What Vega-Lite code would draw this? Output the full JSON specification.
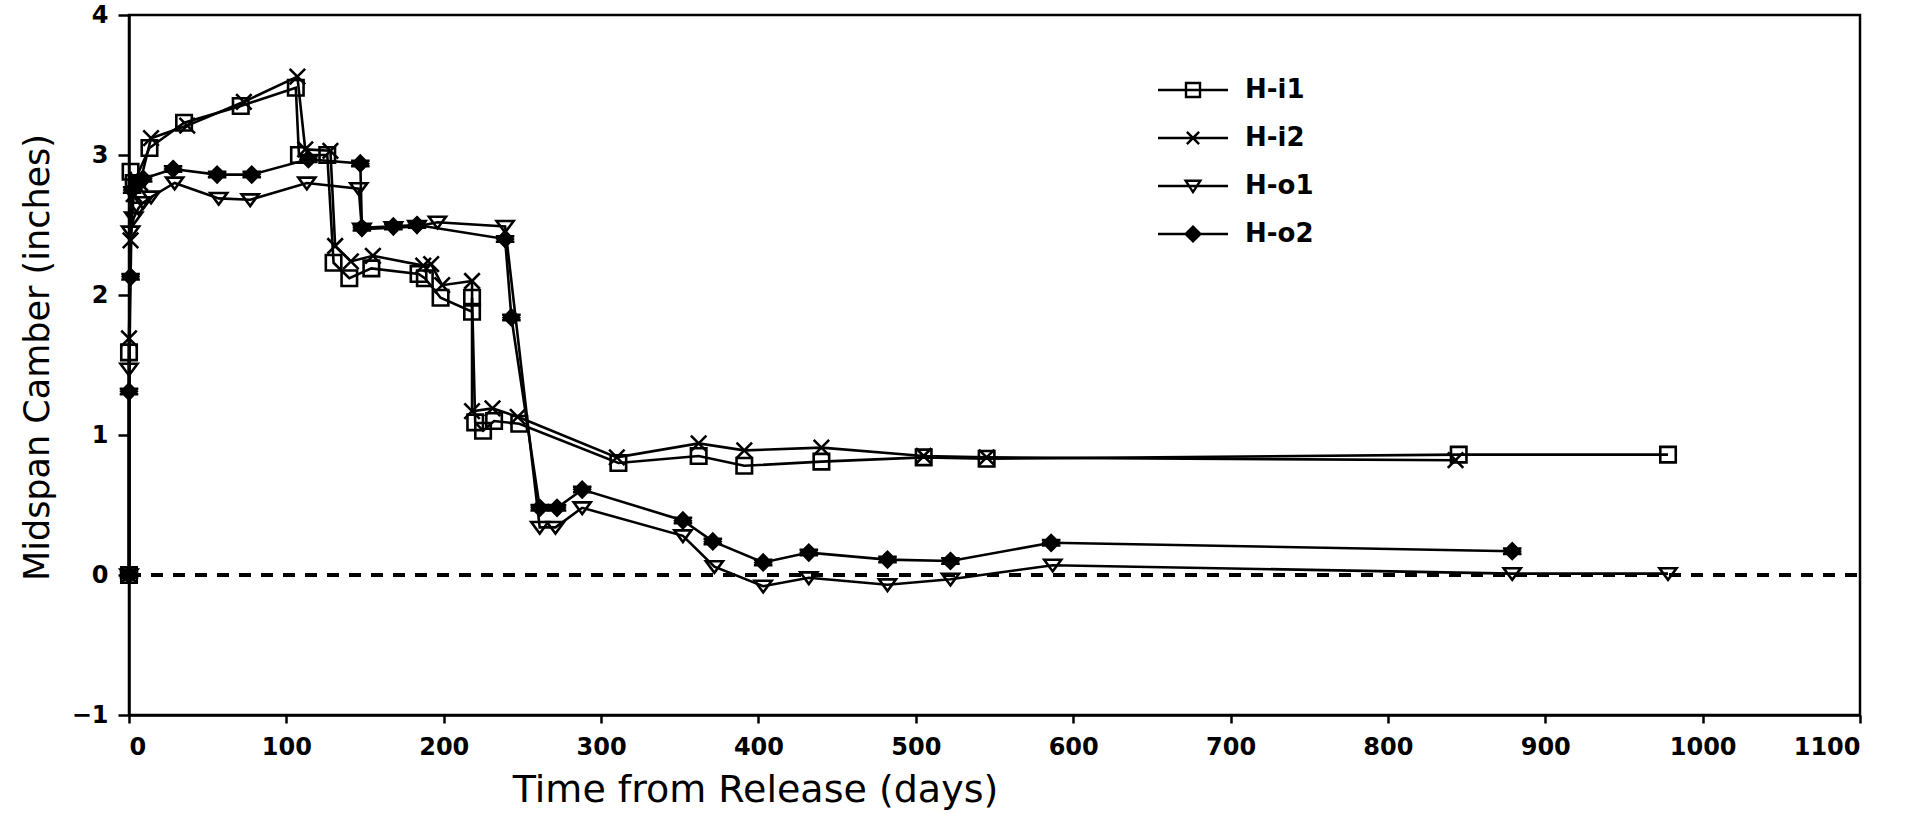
{
  "$schema": "https://vega.github.io/schema/vega-lite/v6.json",
  "width": 1731,
  "height": 700,
  "autosize": {"type": "none"},
  "padding": {"left": 129, "top": 15, "right": 54, "bottom": 99},
  "background": "white",
  "config": {
    "view": {"stroke": "black", "strokeWidth": 2.5},
    "axis": {
      "grid": false,
      "domainColor": "black",
      "domainWidth": 2.5,
      "tickColor": "black",
      "tickWidth": 2.5,
      "labelColor": "black",
      "labelFont": "DejaVu Sans",
      "labelFontWeight": "bold",
      "labelFontSize": 24,
      "titleColor": "black",
      "titleFont": "DejaVu Sans",
      "titleFontWeight": "normal",
      "titleFontSize": 36
    }
  },
  "data": {
    "values": [
      {"s": "H-i1", "i": 1, "d": 0, "v": 0},
      {"s": "H-i1", "i": 2, "d": 0, "v": 1.59},
      {"s": "H-i1", "i": 3, "d": 1, "v": 2.88},
      {"s": "H-i1", "i": 4, "d": 3, "v": 2.8},
      {"s": "H-i1", "i": 5, "d": 13, "v": 3.05},
      {"s": "H-i1", "i": 6, "d": 35, "v": 3.23},
      {"s": "H-i1", "i": 7, "d": 71, "v": 3.35},
      {"s": "H-i1", "i": 8, "d": 106, "v": 3.48},
      {"s": "H-i1", "i": 9, "d": 108, "v": 3.0},
      {"s": "H-i1", "i": 10, "d": 126, "v": 3.0},
      {"s": "H-i1", "i": 11, "d": 130, "v": 2.23},
      {"s": "H-i1", "i": 12, "d": 140, "v": 2.12},
      {"s": "H-i1", "i": 13, "d": 154, "v": 2.19},
      {"s": "H-i1", "i": 14, "d": 184, "v": 2.15},
      {"s": "H-i1", "i": 15, "d": 188, "v": 2.12},
      {"s": "H-i1", "i": 16, "d": 198, "v": 1.98},
      {"s": "H-i1", "i": 17, "d": 218, "v": 1.88},
      {"s": "H-i1", "i": 18, "d": 218, "v": 1.98},
      {"s": "H-i1", "i": 19, "d": 220, "v": 1.09},
      {"s": "H-i1", "i": 20, "d": 225, "v": 1.03},
      {"s": "H-i1", "i": 21, "d": 232, "v": 1.1},
      {"s": "H-i1", "i": 22, "d": 248, "v": 1.08},
      {"s": "H-i1", "i": 23, "d": 311, "v": 0.8},
      {"s": "H-i1", "i": 24, "d": 362, "v": 0.85},
      {"s": "H-i1", "i": 25, "d": 391, "v": 0.78},
      {"s": "H-i1", "i": 26, "d": 440, "v": 0.81},
      {"s": "H-i1", "i": 27, "d": 505, "v": 0.84},
      {"s": "H-i1", "i": 28, "d": 545, "v": 0.83},
      {"s": "H-i1", "i": 29, "d": 845, "v": 0.86},
      {"s": "H-i1", "i": 30, "d": 978, "v": 0.86},

      {"s": "H-i2", "i": 1, "d": 0, "v": 0},
      {"s": "H-i2", "i": 2, "d": 0, "v": 1.69},
      {"s": "H-i2", "i": 3, "d": 1, "v": 2.39},
      {"s": "H-i2", "i": 4, "d": 3, "v": 2.72},
      {"s": "H-i2", "i": 5, "d": 7, "v": 2.8},
      {"s": "H-i2", "i": 6, "d": 14, "v": 3.12},
      {"s": "H-i2", "i": 7, "d": 37, "v": 3.21},
      {"s": "H-i2", "i": 8, "d": 73, "v": 3.38},
      {"s": "H-i2", "i": 9, "d": 107, "v": 3.56},
      {"s": "H-i2", "i": 10, "d": 112, "v": 3.04},
      {"s": "H-i2", "i": 11, "d": 128, "v": 3.03},
      {"s": "H-i2", "i": 12, "d": 131, "v": 2.35},
      {"s": "H-i2", "i": 13, "d": 141, "v": 2.24},
      {"s": "H-i2", "i": 14, "d": 155, "v": 2.28},
      {"s": "H-i2", "i": 15, "d": 187, "v": 2.21},
      {"s": "H-i2", "i": 16, "d": 192, "v": 2.22},
      {"s": "H-i2", "i": 17, "d": 199, "v": 2.07},
      {"s": "H-i2", "i": 18, "d": 218, "v": 2.1},
      {"s": "H-i2", "i": 19, "d": 218, "v": 1.17},
      {"s": "H-i2", "i": 20, "d": 231, "v": 1.19},
      {"s": "H-i2", "i": 21, "d": 247, "v": 1.13},
      {"s": "H-i2", "i": 22, "d": 310, "v": 0.84},
      {"s": "H-i2", "i": 23, "d": 362, "v": 0.94},
      {"s": "H-i2", "i": 24, "d": 391, "v": 0.89},
      {"s": "H-i2", "i": 25, "d": 440, "v": 0.91},
      {"s": "H-i2", "i": 26, "d": 505, "v": 0.85},
      {"s": "H-i2", "i": 27, "d": 545, "v": 0.84},
      {"s": "H-i2", "i": 28, "d": 843, "v": 0.82},

      {"s": "H-o1", "i": 1, "d": 0, "v": 0},
      {"s": "H-o1", "i": 2, "d": 0, "v": 1.47},
      {"s": "H-o1", "i": 3, "d": 1, "v": 2.45},
      {"s": "H-o1", "i": 4, "d": 3, "v": 2.55},
      {"s": "H-o1", "i": 5, "d": 6, "v": 2.62},
      {"s": "H-o1", "i": 6, "d": 9, "v": 2.66},
      {"s": "H-o1", "i": 7, "d": 14, "v": 2.7},
      {"s": "H-o1", "i": 8, "d": 29, "v": 2.8},
      {"s": "H-o1", "i": 9, "d": 57, "v": 2.69},
      {"s": "H-o1", "i": 10, "d": 77, "v": 2.68},
      {"s": "H-o1", "i": 11, "d": 113, "v": 2.8},
      {"s": "H-o1", "i": 12, "d": 146, "v": 2.76},
      {"s": "H-o1", "i": 13, "d": 148, "v": 2.47},
      {"s": "H-o1", "i": 14, "d": 168, "v": 2.48},
      {"s": "H-o1", "i": 15, "d": 183, "v": 2.49},
      {"s": "H-o1", "i": 16, "d": 196, "v": 2.52},
      {"s": "H-o1", "i": 17, "d": 239, "v": 2.49},
      {"s": "H-o1", "i": 18, "d": 261, "v": 0.34},
      {"s": "H-o1", "i": 19, "d": 271, "v": 0.34},
      {"s": "H-o1", "i": 20, "d": 288, "v": 0.48},
      {"s": "H-o1", "i": 21, "d": 352, "v": 0.28},
      {"s": "H-o1", "i": 22, "d": 372, "v": 0.06},
      {"s": "H-o1", "i": 23, "d": 403, "v": -0.08},
      {"s": "H-o1", "i": 24, "d": 432, "v": -0.02},
      {"s": "H-o1", "i": 25, "d": 482, "v": -0.07},
      {"s": "H-o1", "i": 26, "d": 522, "v": -0.03},
      {"s": "H-o1", "i": 27, "d": 587, "v": 0.07},
      {"s": "H-o1", "i": 28, "d": 879, "v": 0.01},
      {"s": "H-o1", "i": 29, "d": 978, "v": 0.01},

      {"s": "H-o2", "i": 1, "d": 0, "v": 0},
      {"s": "H-o2", "i": 2, "d": 0, "v": 1.31},
      {"s": "H-o2", "i": 3, "d": 1, "v": 2.13},
      {"s": "H-o2", "i": 4, "d": 2, "v": 2.75},
      {"s": "H-o2", "i": 5, "d": 5, "v": 2.8},
      {"s": "H-o2", "i": 6, "d": 9, "v": 2.83},
      {"s": "H-o2", "i": 7, "d": 28, "v": 2.9},
      {"s": "H-o2", "i": 8, "d": 56, "v": 2.86},
      {"s": "H-o2", "i": 9, "d": 78, "v": 2.86},
      {"s": "H-o2", "i": 10, "d": 114, "v": 2.97},
      {"s": "H-o2", "i": 11, "d": 147, "v": 2.94},
      {"s": "H-o2", "i": 12, "d": 148, "v": 2.48},
      {"s": "H-o2", "i": 13, "d": 168, "v": 2.49},
      {"s": "H-o2", "i": 14, "d": 183, "v": 2.5},
      {"s": "H-o2", "i": 15, "d": 239, "v": 2.4},
      {"s": "H-o2", "i": 16, "d": 243, "v": 1.84},
      {"s": "H-o2", "i": 17, "d": 261, "v": 0.48},
      {"s": "H-o2", "i": 18, "d": 272, "v": 0.48},
      {"s": "H-o2", "i": 19, "d": 288, "v": 0.61},
      {"s": "H-o2", "i": 20, "d": 352, "v": 0.39},
      {"s": "H-o2", "i": 21, "d": 371, "v": 0.24},
      {"s": "H-o2", "i": 22, "d": 403, "v": 0.09},
      {"s": "H-o2", "i": 23, "d": 432, "v": 0.16},
      {"s": "H-o2", "i": 24, "d": 482, "v": 0.11},
      {"s": "H-o2", "i": 25, "d": 522, "v": 0.1},
      {"s": "H-o2", "i": 26, "d": 586, "v": 0.23},
      {"s": "H-o2", "i": 27, "d": 879, "v": 0.17}
    ]
  },
  "encoding": {
    "x": {
      "field": "d",
      "type": "quantitative",
      "scale": {"domain": [0, 1100], "nice": false, "zero": false},
      "axis": {
        "values": [0, 100, 200, 300, 400, 500, 600, 700, 800, 900, 1000, 1100],
        "format": "d",
        "tickSize": 8,
        "labelPadding": 12,
        "title": "Time from Release (days)",
        "titleFontSize": 38,
        "titleX": 626,
        "titleY": 86,
        "titleAlign": "center",
        "titleAnchor": null,
        "titleBaseline": "alphabetic"
      }
    },
    "y": {
      "field": "v",
      "type": "quantitative",
      "scale": {"domain": [-1, 4], "nice": false, "zero": false},
      "axis": {
        "values": [-1, 0, 1, 2, 3, 4],
        "format": "d",
        "tickSize": 11,
        "labelPadding": 10,
        "title": "Midspan Camber (inches)",
        "titleFontSize": 35,
        "titleX": -92,
        "titleY": 342,
        "titleAngle": -90,
        "titleAlign": "center",
        "titleAnchor": null,
        "titleBaseline": "middle"
      }
    }
  },
  "layer": [
    {
      "mark": {"type": "rule", "strokeDash": [12, 10], "strokeWidth": 2.5, "color": "black"},
      "encoding": {"x": {"datum": 0}, "x2": {"datum": 1100}, "y": {"datum": 0}}
    },
    {
      "mark": {"type": "line", "color": "black", "strokeWidth": 2.6},
      "encoding": {
        "detail": {"field": "s"},
        "order": {"field": "i", "type": "quantitative"}
      }
    },
    {
      "mark": {"type": "point", "filled": false, "color": "black", "strokeWidth": 2.6, "size": 240, "opacity": 1},
      "encoding": {
        "shape": {
          "field": "s",
          "type": "nominal",
          "scale": {
            "domain": ["H-i1", "H-i2", "H-o1", "H-o2"],
            "range": [
              "M-1,-1H1V1H-1Z",
              "M-1,-1L1,1M-1,1L1,-1",
              "M-1.1,-0.7H1.1L0,0.8Z",
              "M0,-1L1,0L0,1L-1,0ZM0,-0.6L0.6,0L0,0.6L-0.6,0ZM0,-0.25L0.25,0L0,0.25L-0.25,0ZM-1.2,-0.35H1.2M-1.2,0.35H1.2"
            ]
          },
          "legend": null
        }
      }
    },
    {
      "transform": [{"filter": "datum.s == 'none'"}],
      "mark": {"type": "point", "filled": false, "color": "black", "strokeWidth": 2.4, "size": 1225},
      "encoding": {
        "shape": {
          "field": "s",
          "type": "nominal",
          "scale": {
            "domain": ["H-i1", "H-i2", "H-o1", "H-o2"],
            "range": [
              "M-2,0H2M-0.4,-0.4H0.4V0.4H-0.4Z",
              "M-2,0H2M-0.35,-0.35L0.35,0.35M-0.35,0.35L0.35,-0.35",
              "M-2,0H2M-0.42,-0.3H0.42L0,0.35Z",
              "M-2,0H2M0,-0.42L0.42,0L0,0.42L-0.42,0ZM0,-0.25L0.25,0L0,0.25L-0.25,0ZM0,-0.1L0.1,0L0,0.1L-0.1,0Z"
            ]
          },
          "legend": {
            "title": null,
            "orient": "none",
            "legendX": 1045,
            "legendY": 56,
            "padding": 0,
            "symbolSize": 1225,
            "symbolStrokeWidth": 2.4,
            "symbolStrokeColor": "black",
            "symbolFillColor": "transparent",
            "symbolOpacity": 1,
            "labelFont": "DejaVu Sans",
            "labelFontWeight": "bold",
            "labelFontSize": 26,
            "labelColor": "black",
            "labelOffset": 33,
            "rowPadding": 16
          }
        }
      }
    }
  ],
  "resolve": {"scale": {"shape": "independent"}, "legend": {"shape": "independent"}}
}
